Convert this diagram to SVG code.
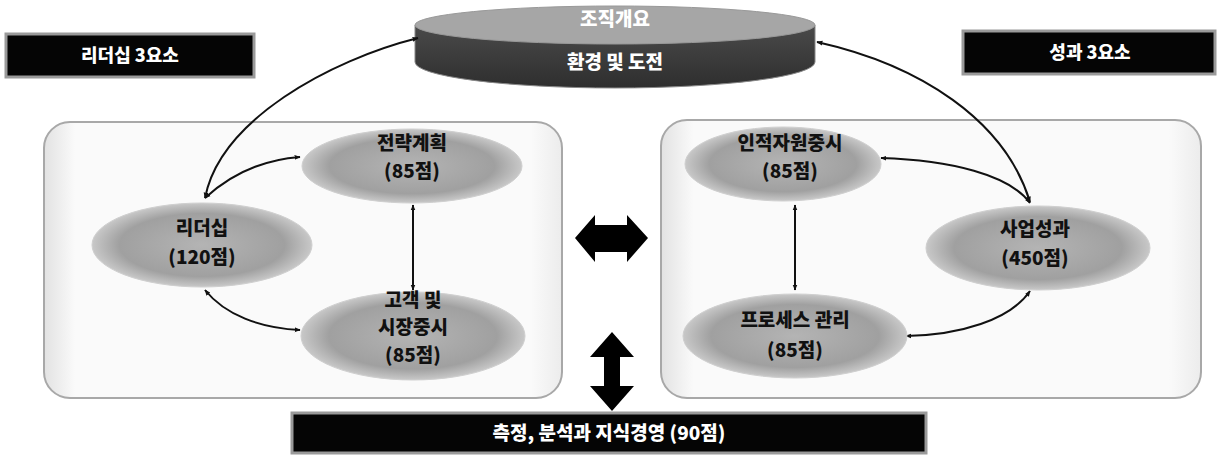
<svg xmlns="http://www.w3.org/2000/svg" width="1222" height="461" viewBox="0 0 1222 461">
<style>
.t{font-family:"Noto Sans CJK KR","Noto Sans",sans-serif;font-weight:900;text-anchor:middle}
.nt{font-size:19px;fill:#111}
.wt{font-size:19px;fill:#fff}
.lt{font-size:18px;fill:#fff}
.con{fill:none;stroke:#111;stroke-width:2;marker-start:url(#ah);marker-end:url(#ah)}
.ell{fill:url(#eg);stroke:#cfcfcf;stroke-width:1}
.panel{fill:url(#pg);stroke:#a8a8a8;stroke-width:2}
.lbl{fill:#050505;stroke:#9a9a9a;stroke-width:3}
</style>
<defs>
<radialGradient id="eg" cx="50%" cy="50%" r="50%">
<stop offset="0" stop-color="#b4b4b4"/>
<stop offset="0.75" stop-color="#a0a0a0"/>
<stop offset="1" stop-color="#c8c8c8"/>
</radialGradient>
<linearGradient id="pg" x1="0" y1="0" x2="1" y2="0">
<stop offset="0" stop-color="#e2e2e2"/>
<stop offset="0.06" stop-color="#fafafa"/>
<stop offset="0.94" stop-color="#fafafa"/>
<stop offset="1" stop-color="#ececec"/>
</linearGradient>
<linearGradient id="dg" x1="0" y1="0" x2="0" y2="1">
<stop offset="0" stop-color="#4a4a4a"/>
<stop offset="1" stop-color="#2e2e2e"/>
</linearGradient>
<marker id="ah" viewBox="0 0 10 10" refX="9" refY="5" markerWidth="6" markerHeight="6" orient="auto-start-reverse" markerUnits="userSpaceOnUse">
<path d="M0,1 L10,5 L0,9 Z" fill="#111"/>
</marker>
</defs>

<g id="panel-left"><rect class="panel" x="44" y="122" width="518" height="276" rx="26"/></g>
<g id="panel-right"><rect class="panel" x="661" y="120" width="540" height="278" rx="26"/></g>

<g id="org-overview">
<path d="M415,25 L415,62 A200,26 0 0 0 815,62 L815,25 Z" fill="url(#dg)" stroke="#888" stroke-width="1"/>
<ellipse cx="615" cy="25" rx="200" ry="19" fill="#a6a6a6" stroke="#999" stroke-width="1"/>
<text class="t wt" x="615" y="26">조직개요</text>
<text class="t wt" x="615" y="69">환경 및 도전</text>
</g>

<g id="label-leadership"><rect class="lbl" x="6" y="34" width="248" height="43"/><text class="t lt" x="130" y="62">리더십 3요소</text></g>
<g id="label-results"><rect class="lbl" x="963" y="31" width="252" height="43"/><text class="t lt" x="1090" y="59">성과 3요소</text></g>

<g id="connectors">
<path class="con" d="M205,198 C220,120 330,60 418,38"/>
<path class="con" d="M205,198 C230,175 260,160 300,157"/>
<path class="con" d="M205,290 C225,315 260,328 300,330"/>
<path class="con" d="M413,205 L413,290"/>
<path class="con" d="M817,42 C920,65 1005,120 1030,202"/>
<path class="con" d="M881,158 C950,160 1010,175 1030,203"/>
<path class="con" d="M1030,291 C1010,320 960,335 906,336"/>
<path class="con" d="M795,205 L795,290"/>
<path d="M575,238 L595,215 L595,225 L627,225 L627,215 L648,238 L627,262 L627,252 L595,252 L595,262 Z" fill="#000"/>
<path d="M612,332 L634,357 L620,357 L620,386 L634,386 L612,411 L590,386 L604,386 L604,357 L590,357 Z" fill="#000"/>
</g>

<g id="node-strategy"><ellipse class="ell" cx="412" cy="166" rx="110" ry="37"/><text class="t nt" x="412" y="150">전략계획</text><text class="t nt" x="412" y="178">(85점)</text></g>
<g id="node-leadership"><ellipse class="ell" cx="202" cy="245" rx="110" ry="42"/><text class="t nt" x="202" y="235">리더십</text><text class="t nt" x="202" y="264">(120점)</text></g>
<g id="node-customer"><ellipse class="ell" cx="413" cy="336" rx="112" ry="44"/><text class="t nt" x="413" y="307">고객 및</text><text class="t nt" x="413" y="334">시장중시</text><text class="t nt" x="413" y="362">(85점)</text></g>
<g id="node-hr"><ellipse class="ell" cx="783" cy="164" rx="98" ry="37"/><text class="t nt" x="790" y="150">인적자원중시</text><text class="t nt" x="790" y="178">(85점)</text></g>
<g id="node-business"><ellipse class="ell" cx="1038" cy="248" rx="112" ry="42"/><text class="t nt" x="1035" y="236">사업성과</text><text class="t nt" x="1035" y="265">(450점)</text></g>
<g id="node-process"><ellipse class="ell" cx="795" cy="336" rx="112" ry="42"/><text class="t nt" x="795" y="327">프로세스 관리</text><text class="t nt" x="795" y="357">(85점)</text></g>

<g id="bar-measurement"><rect class="lbl" x="292" y="413" width="634" height="40"/><text class="t wt" x="609" y="440">측정, 분석과 지식경영 (90점)</text></g>
</svg>
